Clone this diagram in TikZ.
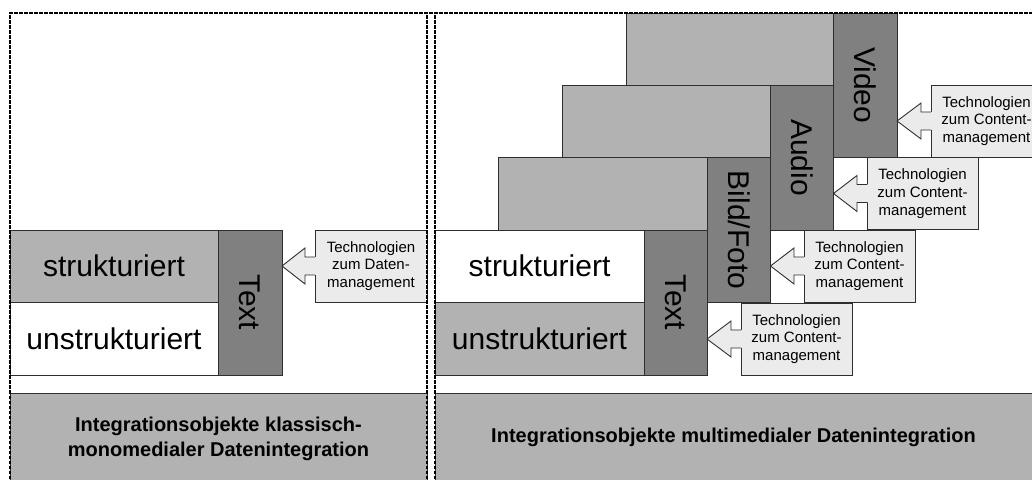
\documentclass[tikz,border=0pt]{standalone}
\usepackage{fontspec}
\setmainfont{Liberation Sans}
\definecolor{lightbox}{gray}{0.70}
\definecolor{darkbox}{gray}{0.50}
\definecolor{callfill}{gray}{0.92}
\definecolor{edgecol}{gray}{0.18}
\tikzset{
  box/.style={draw=edgecol, line width=0.9pt, inner sep=0pt, outer sep=0pt, anchor=south west},
  lbox/.style={box, fill=lightbox, font=\fontsize{30}{36}\selectfont},
  wbox/.style={box, fill=white, font=\fontsize{30}{36}\selectfont},
  dbox/.style={box, fill=darkbox},
  cbox/.style={box, fill=callfill, font=\fontsize{15}{17.7}\selectfont, align=center},
  vlabel/.style={rotate=-90, font=\fontsize{30}{36}\selectfont, inner sep=0pt},
  botbox/.style={box, fill=lightbox, font=\bfseries\fontsize{20}{25}\selectfont, align=center},
  border/.style={line width=2pt, dash pattern=on 3.5pt off 1.5pt, draw=black},
  arrowfill/.style={fill=callfill},
  arrowline/.style={draw=edgecol, line width=0.9pt, line join=miter}
}
\newcommand\mycallout[2]{%
  \fill[arrowfill] ([xshift=1.5pt,yshift=9pt]#2.west) -- ([xshift=-10pt,yshift=9pt]#2.west)
    -- ([xshift=-10pt,yshift=18pt]#2.west) -- (#1.east |- #2.west)
    -- ([xshift=-10pt,yshift=-18pt]#2.west) -- ([xshift=-10pt,yshift=-9pt]#2.west)
    -- ([xshift=1.5pt,yshift=-9pt]#2.west) -- cycle;
  \draw[arrowline] ([yshift=9pt]#2.west) -- ([xshift=-10pt,yshift=9pt]#2.west)
    -- ([xshift=-10pt,yshift=18pt]#2.west) -- (#1.east |- #2.west)
    -- ([xshift=-10pt,yshift=-18pt]#2.west) -- ([xshift=-10pt,yshift=-9pt]#2.west)
    -- ([yshift=-9pt]#2.west);
}
\begin{document}
\begin{tikzpicture}[x=1pt,y=1pt]
\useasboundingbox (0,0) rectangle (1032,479);
\clip (0,0) rectangle (1032,479);

% ---------- left panel ----------
\node[lbox, minimum width=208pt, minimum height=72.5pt] (struk1) at (10,176.5) {strukturiert};
\node[wbox, minimum width=208pt, minimum height=72.5pt] (unstruk1) at (10,104) {unstrukturiert};
\node[dbox, minimum width=64pt, minimum height=145pt] (text1) at (218,104) {};
\node[vlabel] (text1l) at (text1.center) {Text};
\node[cbox, minimum width=112pt, minimum height=72pt] (call1) at (315,177) {Technologien\\zum Daten-\\management};
\mycallout{text1}{call1}
\node[botbox, minimum width=417pt, minimum height=91pt] (bot1) at (10,-5) {Integrationsobjekte klassisch-\\monomedialer Datenintegration};

% ---------- right panel ----------
\node[lbox, minimum width=207.5pt, minimum height=72pt] (vidL) at (626,394) {};
\node[dbox, minimum width=63.5pt, minimum height=144.5pt] (vidD) at (833.5,321.5) {};
\node[vlabel] (vidl) at (vidD.center) {Video};
\node[lbox, minimum width=208.5pt, minimum height=72.5pt] (audL) at (562,321.5) {};
\node[dbox, minimum width=63pt, minimum height=145pt] (audD) at (770.5,249) {};
\node[vlabel] (audl) at (audD.center) {Audio};
\node[lbox, minimum width=209pt, minimum height=72.5pt] (bildL) at (498,249) {};
\node[dbox, minimum width=63.5pt, minimum height=145pt] (bildD) at (707,176.5) {};
\node[vlabel] (bildl) at (bildD.center) {Bild/Foto};
\node[wbox, minimum width=209pt, minimum height=72.5pt] (struk2) at (435,176.5) {strukturiert};
\node[lbox, minimum width=209pt, minimum height=72.5pt] (unstruk2) at (435,104) {unstrukturiert};
\node[dbox, minimum width=63pt, minimum height=145pt] (textD2) at (644,104) {};
\node[vlabel] (text2l) at (textD2.center) {Text};

\node[cbox, minimum width=111pt, minimum height=72pt] (vidC) at (931,322) {Technologien\\zum Content-\\management};
\mycallout{vidD}{vidC}
\node[cbox, minimum width=111pt, minimum height=72pt] (audC) at (867,249.5) {Technologien\\zum Content-\\management};
\mycallout{audD}{audC}
\node[cbox, minimum width=111pt, minimum height=72pt] (bildC) at (804,177) {Technologien\\zum Content-\\management};
\mycallout{bildD}{bildC}
\node[cbox, minimum width=111pt, minimum height=72pt] (textC) at (741,104) {Technologien\\zum Content-\\management};
\mycallout{textD2}{textC}

\node[botbox, minimum width=620pt, minimum height=91pt] (bot2) at (435,-5) {};
\node[font=\bfseries\fontsize{20}{25}\selectfont] (bot2l) at (733.5,42) {Integrationsobjekte multimedialer Datenintegration};

% ---------- dashed frames ----------
\coordinate (fl) at (10,0);
\coordinate (ftl) at (10,466);
\coordinate (ftr) at (1040,466);
\draw[border] (fl) -- (ftl) -- (ftr);
\draw[border] (427,0) -- (427,466);
\draw[border] (435,0) -- (435,466);
\end{tikzpicture}
\end{document}
